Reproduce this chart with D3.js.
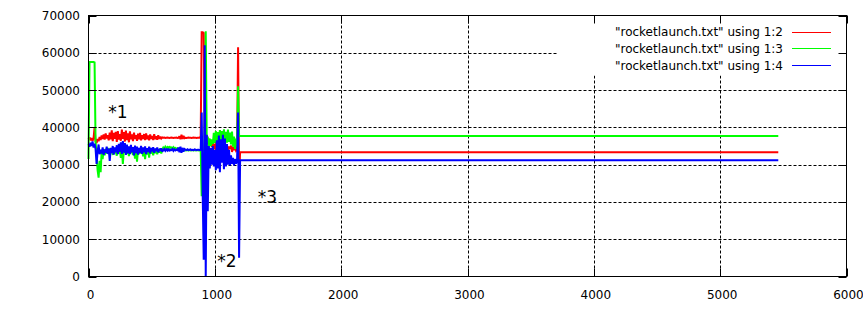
<!DOCTYPE html>
<html><head><meta charset="utf-8">
<script src="https://cdn.jsdelivr.net/npm/d3@7"></script>
<style>body{margin:0;background:#fff} text{font-family:"DejaVu Sans",sans-serif;fill:#000}</style>
</head><body><svg id="c" width="863" height="311"></svg>
<script>
const time = [
0,8,16,24,32,40,48,56,64,72,
80,88,96,104,112,120,128,136,144,152,
160,168,176,184,192,200,208,216,224,232,
240,248,256,264,272,280,288,296,304,312,
320,328,336,344,352,360,368,376,384,392,
400,408,416,424,432,440,448,456,464,472,
480,488,496,504,512,520,528,536,544,552,
560,568,576,584,592,600,608,616,624,632,
640,648,656,664,672,680,688,696,704,712,
720,728,736,744,752,760,768,776,784,792,
800,808,816,824,832,840,848,856,864,872,
880,888,896,904,912,920,928,936,944,952,
960,968,976,984,992,1000,1008,1016,1024,1032,
1040,1048,1056,1064,1072,1080,1088,1096,1104,1112,
1120,1128,1136,1144,1152,1160,1168,1176,1184,1192,
1200,2000,3000,4000,5000,5460];

const col2 = [
36800,37300,36500,37100,36400,37000,40000,
36200,35800,36900,36300,37400,36600,37800,36900,38100,36700,
38400,37000,37900,36500,38600,36800,39200,36300,38500,36900,
38800,36100,39000,36700,38200,36400,39400,36900,38700,36200,
39100,36600,38400,36000,38900,36800,38100,36300,38600,36900,
37900,36400,38300,36800,38500,36500,37900,36900,38200,36600,
38400,36800,37800,36500,38100,36900,37700,36600,38200,36800,
37600,36700,37900,36900,37500,37000,37300,
37200,37250,37150,37200,37250,37200,37150,37200,37250,37200,37150,37200,37200,37250,37150,37200,
37600,36800,38000,36900,37700,37100,
37200,37150,37200,37250,37200,37200,37150,37200,37250,37200,37200,37150,37200,37200,37250,37200,
65500,65500,65300,
37500,36000,37800,35500,37000,35200,36500,34800,35800,
34200,35600,33800,35900,34100,36200,33900,35800,34300,36000,33700,35500,34500,35200,33600,34900,34200,35100,33400,34800,33900,34500,33700,
34000,61500,26500,
33350,33350,33350,33350,33350,33350];

const col3 = [
31500,57500,57500,57500,57500,57500,57400,
36000,33000,28500,26500,31000,28000,33500,31500,34000,32500,
34200,33000,34500,32800,34300,33200,34000,32600,34400,33100,
33800,32400,34600,33000,34100,31800,34300,30200,34000,33200,
34500,32900,34200,32300,34700,33100,34000,32600,34300,31600,
34600,30800,34100,32800,34400,33000,34200,32200,33900,31500,
34300,32700,34100,31900,34500,33000,34200,32500,33900,33100,
34300,32800,34000,33200,34400,33000,34100,
34600,34300,34800,34400,34700,34200,34900,34500,34600,34300,34700,34400,34500,34200,34400,34100,34300,34000,34100,
33900,33800,33900,33800,33900,33850,33800,33900,33800,33900,33850,33800,33900,33800,33900,33850,33800,33900,34000,
21500,33000,28000,40000,65800,36000,37500,34500,37000,35000,36800,
35500,38500,35800,39000,36200,38700,35600,39300,36000,39000,35500,39500,36300,38800,35900,39400,36100,38600,35400,38900,34800,37500,34200,37000,35000,
51000,37700,
37700,37700,37700,37700,37700,37700];

const col4 = [
35500,34800,35900,35000,36200,34600,35600,34200,
30200,33500,35400,32800,34000,33000,34600,32600,34100,33200,
34800,32900,34300,31000,34500,33100,35000,32700,34600,33300,
35200,32800,35600,33400,36000,32900,36300,33200,35800,32600,
35400,33000,34900,32800,35300,33300,34700,32500,35100,33100,
34800,32700,34500,33200,35000,32900,34600,33300,34900,32800,
34400,33400,34800,33000,34500,33500,34700,33200,34300,33600,
34600,33300,34200,33700,34400,33500,
33900,34200,33700,34100,33800,34300,33600,34000,33900,34200,33700,34100,33800,34000,33900,
34600,33300,34800,33200,34500,33500,34200,
34000,33900,34100,33900,34000,34100,33900,34000,33900,34100,34000,33900,34000,34000,33900,34000,
44000,22000,4500,62000,0,38000,17500,35000,29000,34500,30000,35000,29500,34000,
28500,36500,29000,37800,28000,36800,30500,38000,28800,37000,29500,35500,30000,34000,29800,32500,30200,31800,29800,31500,30300,31000,
44000,5000,
31150,31150,31150,31150,31150,31150];

const xTicks = [0,1000,2000,3000,4000,5000,6000];
const yTicks = [0,10000,20000,30000,40000,50000,60000,70000];
const seriesNames = ['"rocketlaunch.txt" using 1:2','"rocketlaunch.txt" using 1:3','"rocketlaunch.txt" using 1:4'];
const seriesColors = ["#ff0000","#00ff00","#0000ff"];

const svg = d3.select("#c");
const L=88.5, R=846.5, T=15.5, B=276.5;
const x = d3.scaleLinear().domain([0,6000]).range([L,R]);
const y = d3.scaleLinear().domain([0,70000]).range([B,T]);

// grid
const grid = svg.append("g").attr("stroke","#000").attr("stroke-width",1).attr("stroke-dasharray","3,2").attr("fill","none");
xTicks.slice(1,-1).forEach(v=>grid.append("line").attr("x1",Math.round(x(v))+0.5).attr("x2",Math.round(x(v))+0.5).attr("y1",T).attr("y2",B));
yTicks.slice(1,-1).forEach(v=>grid.append("line").attr("y1",Math.round(y(v))+0.5).attr("y2",Math.round(y(v))+0.5).attr("x1",L).attr("x2",R));

// key box (opaque)
svg.append("rect").attr("x",558).attr("y",T+0.5).attr("width",R-558).attr("height",75-T).attr("fill","#fff");

// data
const cols=[col2,col3,col4];
const line = d3.line().x(d=>x(d[0])).y(d=>y(d[1]));
cols.forEach((c,k)=>{
  const pts = time.map((t,i)=>[t,c[i]]);
  svg.append("path").datum(pts).attr("d",line).attr("fill","none")
    .attr("stroke",seriesColors[k]).attr("stroke-width",2).attr("stroke-linejoin","miter").attr("stroke-miterlimit",2);
});

// border
svg.append("rect").attr("x",L).attr("y",T).attr("width",R-L).attr("height",B-T).attr("fill","none").attr("stroke","#000").attr("stroke-width",1);

// ticks
const tk = svg.append("g").attr("stroke","#000").attr("stroke-width",1);
const TL=8;
yTicks.forEach(v=>{const yy=Math.round(y(v))+0.5;
  tk.append("line").attr("x1",L).attr("x2",L+TL).attr("y1",yy).attr("y2",yy);
  tk.append("line").attr("x1",R).attr("x2",R-TL).attr("y1",yy).attr("y2",yy);});
xTicks.forEach(v=>{const xx=Math.round(x(v))+0.5;
  tk.append("line").attr("x1",xx).attr("x2",xx).attr("y1",B).attr("y2",B-TL);
  tk.append("line").attr("x1",xx).attr("x2",xx).attr("y1",T).attr("y2",T+TL);});

// tick labels
yTicks.forEach(v=>svg.append("text").attr("x",80).attr("y",y(v)+4.5).attr("text-anchor","end").attr("font-size",12).text(v));
xTicks.forEach(v=>svg.append("text").attr("x",x(v)+2).attr("y",298.5).attr("text-anchor","middle").attr("font-size",12).text(v));

// key
const rowsY=[31.7,48.4,65.1];
seriesNames.forEach((n,k)=>{
  svg.append("text").attr("x",783).attr("y",rowsY[k]+4.5).attr("text-anchor","end").attr("font-size",12).text(n);
  svg.append("line").attr("x1",792).attr("x2",831).attr("y1",Math.round(rowsY[k])+0.5).attr("y2",Math.round(rowsY[k])+0.5).attr("stroke",seriesColors[k]).attr("stroke-width",1);
});

// labels
const notes=[["*1",157,42640],["*2",1019,2680],["*3",1339,19630]];
notes.forEach(n=>svg.append("text").attr("x",x(n[1])).attr("y",y(n[2])).attr("font-size",17).text(n[0]));
</script></body></html>
